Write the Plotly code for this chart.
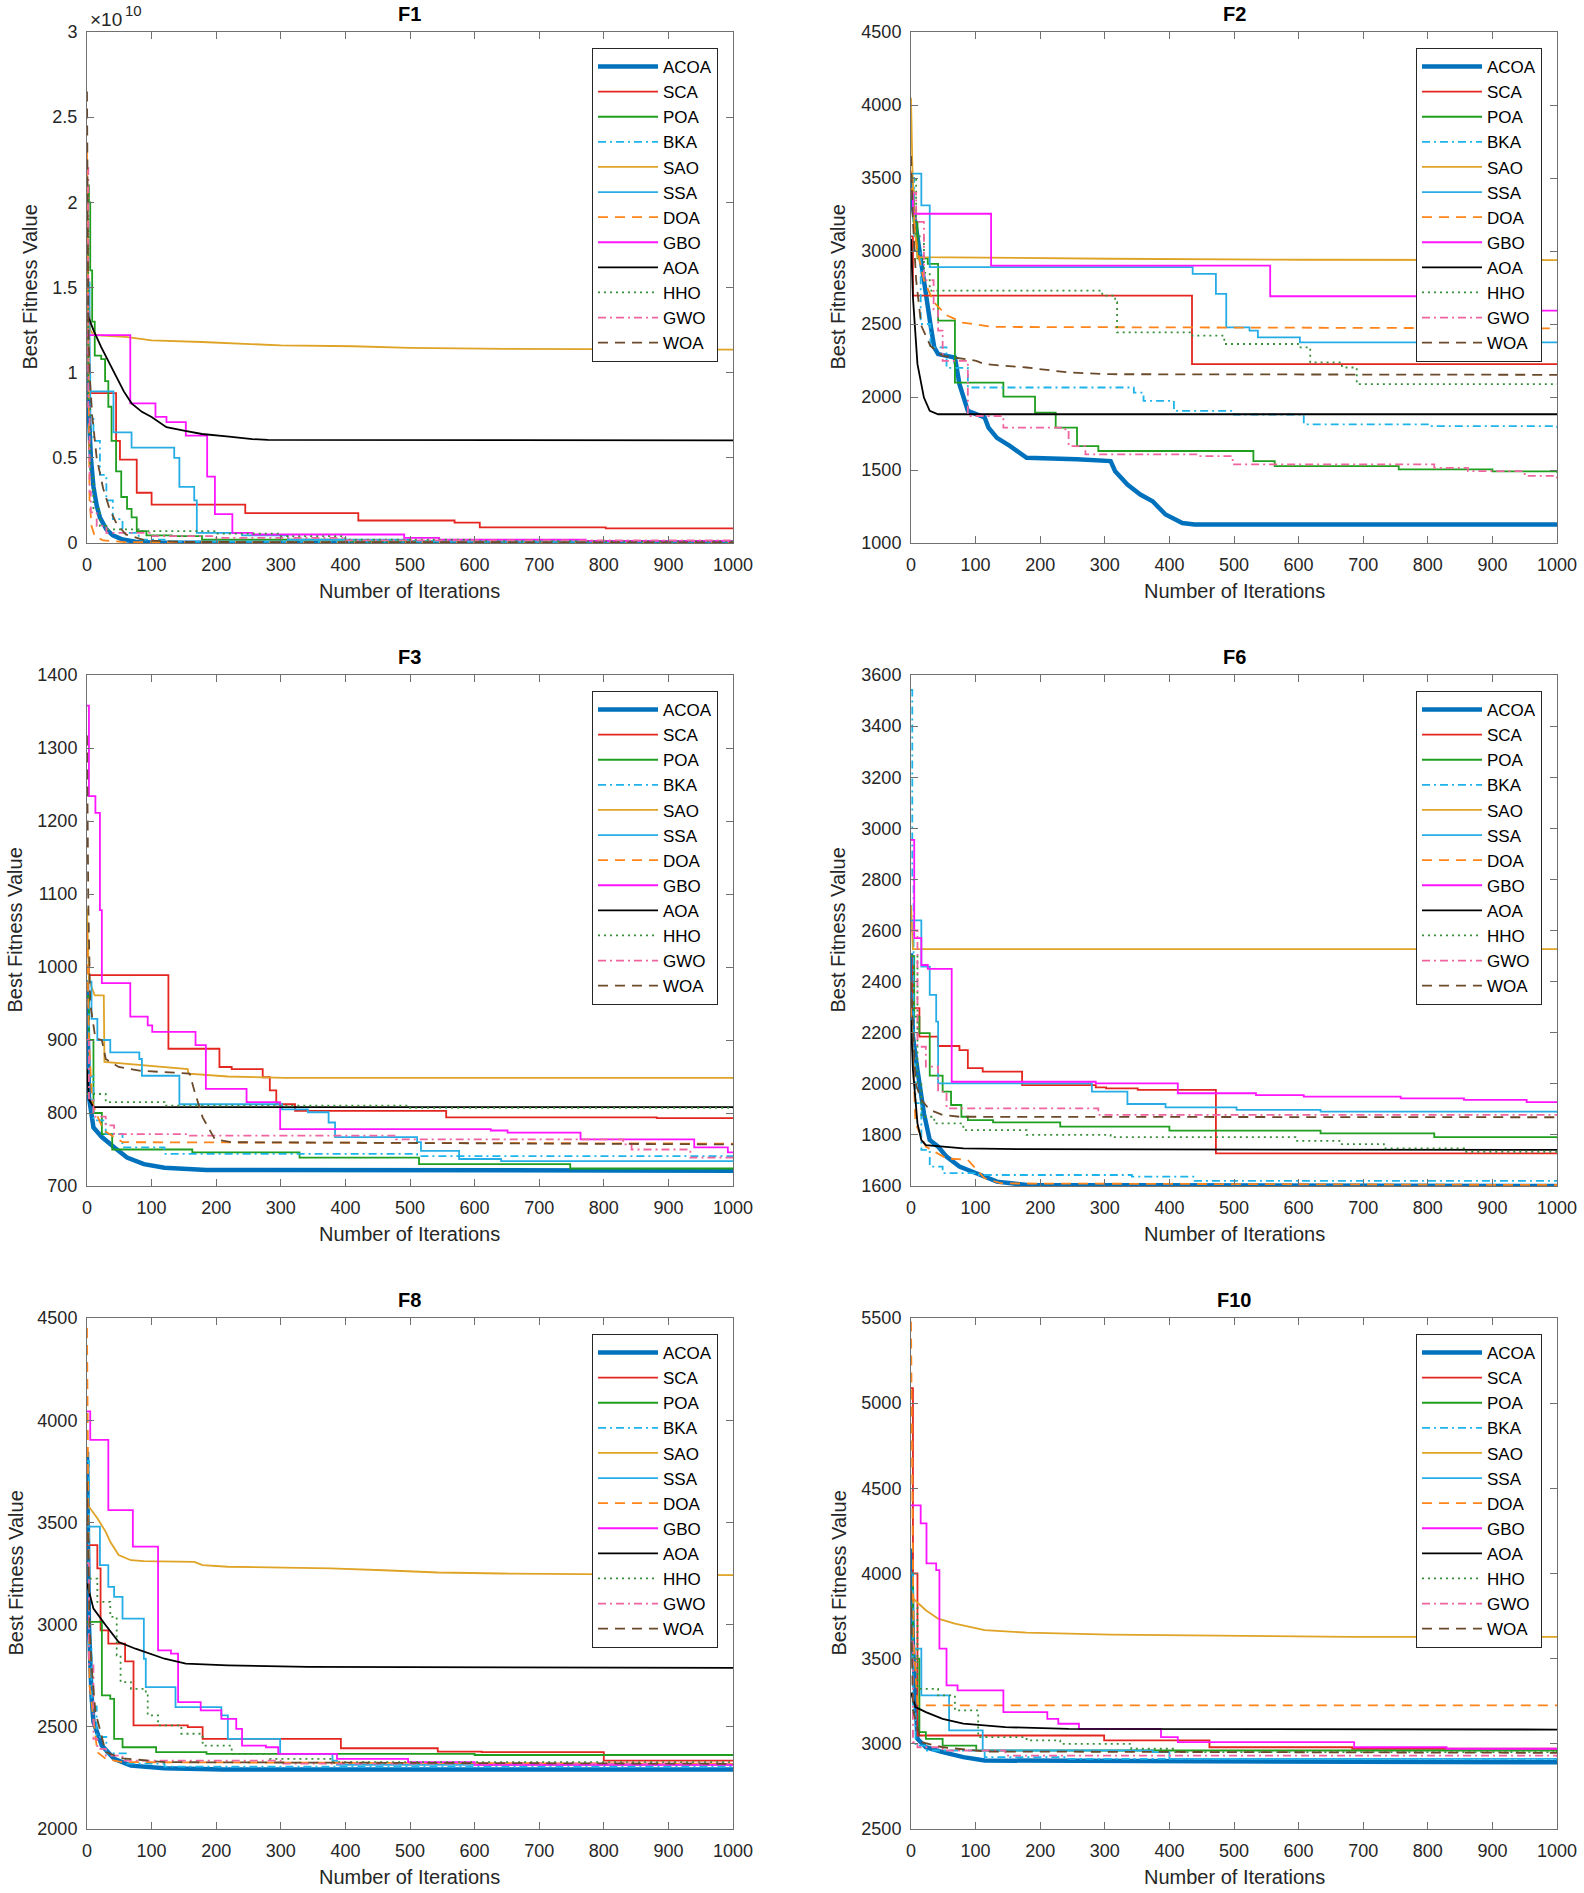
import plotly.graph_objects as go

# convergence curves, as (iteration, best fitness) breakpoints
ALGOS = ["ACOA", "SCA", "POA", "BKA", "SAO", "SSA", "DOA", "GBO", "AOA", "HHO", "GWO", "WOA"]

COLORS = {
    "ACOA": "#0072BD", "SCA": "#E3261F", "POA": "#1F9E1F", "BKA": "#1CB4EA",
    "SAO": "#DFA326", "SSA": "#27ADE6", "DOA": "#FF8419", "GBO": "#FF14FF",
    "AOA": "#000000", "HHO": "#3A8F3A", "GWO": "#F0649F", "WOA": "#6B4A2B",
}
DASHES = {
    "ACOA": "solid", "SCA": "solid", "POA": "solid", "BKA": "8px,4px,2px,4px",
    "SAO": "solid", "SSA": "solid", "DOA": "10px,7px", "GBO": "solid",
    "AOA": "solid", "HHO": "2px,4px", "GWO": "8px,4px,2px,4px", "WOA": "10px,7px",
}
STEP_ALGOS = {"SCA", "POA", "BKA", "SSA", "GBO", "HHO", "GWO"}

# ---- F1 (values in units of 1e10)
F1_ACOA = [(0, 1.52), (1, 1.1), (3, 0.75), (6, 0.5), (10, 0.33), (15, 0.22), (20, 0.15), (30, 0.08),
           (40, 0.045), (55, 0.02), (75, 0.008), (100, 0.003), (200, 0.001), (1000, 0.0)]
F1_SCA = [(0, 1.55), (2, 1.0), (4, 0.88), (45, 0.6), (51, 0.49), (77, 0.295), (100, 0.225), (245, 0.175),
          (420, 0.132), (569, 0.12), (608, 0.092), (803, 0.086), (1000, 0.086)]
F1_POA = [(0, 2.1), (3, 2.0), (5, 1.6), (8, 1.3), (12, 1.1), (22, 1.08), (28, 0.95), (33, 0.8), (38, 0.6),
          (45, 0.42), (53, 0.27), (62, 0.2), (69, 0.15), (77, 0.07), (92, 0.045), (131, 0.04), (178, 0.02),
          (400, 0.01), (1000, 0.005)]
F1_BKA = [(0, 1.4), (2, 1.0), (5, 0.75), (10, 0.6), (20, 0.4), (30, 0.25), (40, 0.14), (55, 0.06),
          (80, 0.02), (120, 0.008), (1000, 0.002)]
F1_SAO = [(0, 2.0), (2, 1.5), (5, 1.25), (10, 1.22), (60, 1.21), (100, 1.19), (178, 1.18), (300, 1.16),
          (412, 1.155), (500, 1.145), (647, 1.14), (1000, 1.135)]
F1_SSA = [(0, 1.53), (4, 0.89), (41, 0.65), (69, 0.56), (135, 0.5), (143, 0.33), (166, 0.25), (170, 0.06),
          (240, 0.045), (311, 0.02), (500, 0.01), (1000, 0.006)]
F1_DOA = [(0, 2.3), (2, 0.9), (4, 0.25), (7, 0.1), (12, 0.04), (25, 0.015), (60, 0.005), (1000, 0.001)]
F1_GBO = [(0, 1.22), (67, 0.82), (106, 0.74), (123, 0.71), (153, 0.63), (186, 0.39), (198, 0.17),
          (225, 0.06), (256, 0.05), (491, 0.03), (545, 0.02), (772, 0.012), (1000, 0.01)]
F1_AOA = [(0, 1.35), (10, 1.25), (22, 1.15), (35, 1.05), (45, 0.98), (57, 0.89), (69, 0.82), (85, 0.77),
          (100, 0.74), (123, 0.68), (150, 0.66), (178, 0.64), (220, 0.625), (256, 0.61), (280, 0.605),
          (1000, 0.602)]
F1_HHO = [(0, 1.9), (2, 0.8), (5, 0.4), (10, 0.2), (20, 0.1), (30, 0.08), (80, 0.07), (200, 0.055),
          (300, 0.04), (400, 0.02), (600, 0.01), (1000, 0.006)]
F1_GWO = [(0, 2.2), (2, 0.8), (4, 0.3), (6, 0.18), (15, 0.1), (30, 0.06), (100, 0.04), (200, 0.03),
          (400, 0.015), (1000, 0.01)]
F1_WOA = [(0, 2.65), (2, 1.3), (4, 1.0), (8, 0.75), (15, 0.5), (25, 0.32), (35, 0.2), (45, 0.12),
          (60, 0.05), (90, 0.015), (150, 0.006), (1000, 0.003)]

# ---- F2
F2_ACOA = [(0, 3490), (3, 3300), (10, 3095), (16, 2900), (23, 2683), (30, 2500), (36, 2340), (42, 2294),
           (68, 2270), (75, 2088), (88, 1905), (114, 1860), (120, 1790), (133, 1720), (153, 1665),
           (179, 1584), (257, 1573), (309, 1561), (316, 1492), (335, 1400), (355, 1332), (374, 1286),
           (394, 1195), (420, 1137), (439, 1126), (1000, 1126)]
F2_SCA = [(0, 3100), (3, 2695), (435, 2225), (1000, 2225)]
F2_POA = [(0, 3420), (4, 3200), (10, 2950), (26, 2912), (42, 2523), (68, 2099), (143, 2003), (192, 1893),
          (224, 1790), (257, 1664), (290, 1630), (530, 1561), (563, 1527), (755, 1504), (900, 1490),
          (1000, 1481)]
F2_BKA = [(0, 3500), (5, 3000), (15, 2500), (30, 2340), (55, 2200), (88, 2065), (345, 2030), (360, 1973),
          (407, 1905), (500, 1880), (608, 1813), (800, 1800), (1000, 1790)]
F2_SAO = [(0, 4050), (2, 3600), (5, 3200), (10, 2958), (309, 2947), (609, 2940), (1000, 2938)]
F2_SSA = [(0, 3530), (16, 3313), (29, 2889), (436, 2843), (472, 2706), (488, 2477), (524, 2454),
          (537, 2408), (602, 2374), (1000, 2370)]
F2_DOA = [(0, 3550), (5, 3200), (10, 3000), (20, 2800), (35, 2650), (55, 2560), (80, 2510), (127, 2480),
          (1000, 2470)]
F2_GBO = [(0, 3400), (3, 3255), (124, 2900), (556, 2690), (850, 2592), (1000, 2592)]
F2_AOA = [(0, 3084), (3, 2683), (10, 2225), (20, 1996), (29, 1905), (42, 1882), (1000, 1882)]
F2_HHO = [(0, 3500), (8, 3100), (20, 2850), (29, 2729), (296, 2695), (316, 2649), (319, 2443), (433, 2420),
          (485, 2363), (599, 2340), (618, 2237), (667, 2202), (690, 2088), (1000, 2088)]
F2_GWO = [(0, 3400), (8, 3200), (20, 2800), (35, 2600), (42, 2454), (49, 2248), (88, 1870), (143, 1790),
          (237, 1779), (244, 1664), (270, 1607), (446, 1595), (498, 1538), (810, 1515), (862, 1492),
          (950, 1460), (1000, 1435)]
F2_WOA = [(0, 3650), (3, 3200), (8, 2800), (16, 2488), (30, 2350), (49, 2282), (101, 2248), (114, 2225),
          (179, 2202), (244, 2168), (309, 2156), (1000, 2152)]

# ---- F3
F3_ACOA = [(0, 982), (3, 822), (10, 780), (23, 767), (42, 753), (62, 739), (88, 730), (120, 725),
           (185, 722), (1000, 721)]
F3_SCA = [(0, 1000), (3, 989), (126, 888), (205, 863), (224, 860), (272, 849), (283, 831), (293, 812),
          (322, 803), (556, 794), (882, 793), (1000, 793)]
F3_POA = [(0, 960), (3, 900), (10, 800), (23, 771), (39, 750), (163, 746), (329, 739), (514, 730),
          (748, 724), (1000, 724)]
F3_BKA = [(0, 950), (3, 850), (10, 790), (29, 771), (55, 753), (120, 744), (511, 741), (1000, 740)]
F3_SAO = [(0, 1080), (3, 982), (12, 961), (26, 961), (27, 870), (156, 860), (157, 854), (218, 850),
          (306, 848), (1000, 848)]
F3_SSA = [(0, 980), (7, 929), (16, 900), (36, 883), (81, 874), (85, 851), (130, 851), (143, 812),
          (302, 805), (342, 801), (374, 787), (384, 767), (511, 760), (517, 748), (576, 737), (641, 734),
          (1000, 733)]
F3_DOA = [(0, 1050), (3, 900), (8, 815), (16, 796), (26, 776), (55, 760), (1000, 758)]
F3_GBO = [(0, 1358), (3, 1234), (13, 1211), (20, 1078), (23, 978), (67, 932), (94, 920), (101, 911),
          (168, 893), (184, 833), (247, 815), (299, 778), (625, 776), (651, 773), (764, 764), (940, 753),
          (992, 746), (1000, 746)]
F3_AOA = [(0, 860), (3, 819), (10, 808), (1000, 808)]
F3_HHO = [(0, 826), (29, 815), (120, 810), (500, 807), (1000, 806)]
F3_GWO = [(0, 900), (3, 820), (10, 795), (29, 783), (42, 771), (159, 769), (478, 764), (830, 757),
          (843, 750), (934, 739), (1000, 738)]
F3_WOA = [(0, 1317), (2, 1088), (5, 950), (13, 902), (23, 900), (29, 874), (49, 863), (81, 858),
          (159, 854), (166, 831), (179, 794), (198, 764), (224, 760), (1000, 757)]

# ---- F6
F6_ACOA = [(0, 2511), (3, 2185), (10, 2054), (20, 1884), (29, 1780), (42, 1754), (55, 1715), (75, 1676),
           (101, 1650), (133, 1617), (179, 1604), (1000, 1600)]
F6_SCA = [(0, 2500), (3, 2296), (13, 2185), (42, 2148), (75, 2132), (88, 2061), (111, 2048), (172, 1995),
          (286, 1986), (302, 1982), (351, 1976), (472, 1728), (1000, 1725)]
F6_POA = [(0, 2500), (5, 2263), (13, 2198), (29, 2032), (49, 1969), (62, 1917), (78, 1871), (88, 1858),
          (127, 1849), (231, 1832), (400, 1817), (634, 1806), (810, 1791), (1000, 1787)]
F6_BKA = [(0, 3542), (2, 2800), (4, 2100), (7, 1924), (16, 1741), (29, 1676), (49, 1650), (101, 1643),
          (342, 1637), (439, 1620), (1000, 1617)]
F6_SAO = [(0, 2700), (3, 2527), (1000, 2527)]
F6_SSA = [(0, 2640), (16, 2459), (29, 2348), (39, 2243), (42, 2002), (280, 1969), (335, 1921), (394, 1908),
          (504, 1898), (634, 1891), (1000, 1887)]
F6_DOA = [(0, 2300), (7, 1845), (23, 1754), (55, 1708), (88, 1702), (114, 1630), (140, 1610), (1000, 1604)]
F6_GBO = [(0, 2955), (5, 2570), (16, 2465), (26, 2450), (63, 2008), (286, 2002), (413, 1963), (534, 1956),
          (608, 1950), (758, 1943), (856, 1937), (953, 1928), (1000, 1928)]
F6_AOA = [(0, 2250), (3, 2054), (10, 1845), (16, 1780), (23, 1760), (81, 1747), (179, 1744), (1000, 1741)]
F6_HHO = [(0, 2500), (10, 2000), (16, 1871), (36, 1845), (81, 1819), (179, 1800), (309, 1791), (595, 1777),
          (667, 1764), (732, 1747), (856, 1734), (1000, 1732)]
F6_GWO = [(0, 2600), (10, 2145), (23, 2067), (42, 1969), (55, 1904), (290, 1878), (1000, 1878)]
F6_WOA = [(0, 2400), (7, 2002), (16, 1937), (29, 1898), (49, 1878), (75, 1871), (1000, 1869)]

# ---- F8
F8_ACOA = [(0, 3846), (3, 3000), (7, 2654), (10, 2523), (23, 2408), (42, 2343), (68, 2310), (120, 2297),
           (211, 2291), (1000, 2291)]
F8_SCA = [(0, 3389), (16, 3275), (21, 2972), (33, 2907), (59, 2820), (72, 2507), (156, 2498), (179, 2441),
          (393, 2395), (543, 2379), (611, 2376), (800, 2335), (1000, 2335)]
F8_POA = [(0, 3013), (23, 2654), (36, 2637), (42, 2441), (55, 2400), (107, 2376), (185, 2368), (600, 2362),
          (1000, 2359)]
F8_BKA = [(0, 3800), (3, 2900), (7, 2600), (15, 2450), (30, 2370), (60, 2320), (120, 2305), (1000, 2300)]
F8_SAO = [(0, 3600), (3, 3577), (16, 3520), (29, 3454), (36, 3405), (49, 3340), (68, 3315), (88, 3311),
          (166, 3307), (179, 3291), (218, 3283), (377, 3275), (459, 3266), (543, 3255), (641, 3250),
          (1000, 3242)]
F8_SSA = [(0, 3479), (20, 3291), (33, 3185), (42, 3136), (55, 3029), (88, 2833), (91, 2694), (137, 2596),
          (208, 2556), (218, 2441), (299, 2368), (380, 2335), (387, 2314), (1000, 2307)]
F8_DOA = [(0, 4451), (2, 3500), (4, 2700), (16, 2376), (29, 2343), (55, 2327), (1000, 2319)]
F8_GBO = [(0, 4043), (5, 3904), (33, 3560), (71, 3381), (110, 2874), (130, 2858), (141, 2621), (176, 2580),
          (208, 2539), (231, 2490), (240, 2408), (277, 2400), (296, 2368), (387, 2343), (497, 2327),
          (600, 2314), (1000, 2310)]
F8_AOA = [(0, 3201), (10, 3078), (29, 2997), (49, 2915), (75, 2882), (120, 2833), (153, 2809), (218, 2801),
          (342, 2793), (1000, 2788)]
F8_HHO = [(0, 3300), (3, 3225), (16, 3111), (36, 3038), (46, 2850), (52, 2719), (68, 2686), (91, 2654),
          (94, 2556), (110, 2507), (146, 2466), (179, 2408), (224, 2368), (283, 2343), (380, 2327),
          (1000, 2314)]
F8_GWO = [(0, 3300), (3, 2800), (10, 2441), (16, 2392), (29, 2359), (55, 2335), (300, 2320), (1000, 2314)]
F8_WOA = [(0, 3700), (4, 3000), (7, 2800), (13, 2572), (29, 2376), (55, 2346), (120, 2327), (1000, 2319)]

# ---- F10
F10_ACOA = [(0, 4147), (3, 3579), (10, 3029), (23, 2980), (49, 2951), (81, 2922), (114, 2902), (1000, 2892)]
F10_SCA = [(0, 5088), (3, 4000), (10, 3049), (299, 3020), (462, 2980), (683, 2971), (1000, 2971)]
F10_POA = [(0, 4000), (3, 3500), (13, 3069), (23, 3029), (49, 2990), (101, 2961), (1000, 2947)]
F10_BKA = [(0, 4000), (3, 3200), (7, 2990), (23, 2961), (114, 2922), (244, 2912), (1000, 2902)]
F10_SAO = [(0, 3900), (3, 3853), (23, 3784), (42, 3735), (68, 3706), (114, 3667), (179, 3653), (309, 3641),
           (680, 3628), (1000, 3628)]
F10_SSA = [(0, 3600), (3, 3559), (16, 3284), (59, 3079), (111, 2961), (374, 2951), (400, 2912), (1000, 2902)]
F10_DOA = [(0, 5480), (2, 4500), (4, 3600), (10, 3235), (23, 3226), (1000, 3226)]
F10_GBO = [(0, 4400), (15, 4294), (24, 4059), (39, 4020), (44, 3559), (55, 3343), (72, 3314), (143, 3186),
           (211, 3147), (228, 3118), (260, 3088), (387, 3039), (413, 3010), (686, 2980), (829, 2971),
           (1000, 2967)]
F10_AOA = [(0, 3300), (7, 3216), (23, 3186), (49, 3147), (81, 3118), (146, 3098), (244, 3088), (1000, 3084)]
F10_HHO = [(0, 3800), (10, 3323), (42, 3284), (68, 3196), (104, 3039), (179, 3020), (231, 3000), (341, 2971),
           (407, 2951), (1000, 2947)]
F10_GWO = [(0, 3600), (3, 3010), (10, 2980), (49, 2961), (146, 2931), (1000, 2922)]
F10_WOA = [(0, 3900), (3, 3200), (16, 3010), (49, 2980), (114, 2955), (1000, 2947)]

PANEL_NAMES = ["F1", "F2", "F3", "F6", "F8", "F10"]
Y_RANGES = {"F1": (0, 3, 0.5), "F2": (1000, 4500, 500), "F3": (700, 1400, 100),
            "F6": (1600, 3600, 200), "F8": (2000, 4500, 500), "F10": (2500, 5500, 500)}
X_LABEL = "Number of Iterations"
Y_LABEL = "Best Fitness Value"

g = globals()
panels = {p: {a: g[f"{p}_{a}"] for a in ALGOS} for p in PANEL_NAMES}

W, H = 1584, 1893
X_DOMAINS = [(87, 733), (911, 1557)]                # pixel columns of the plot boxes
Y_DOMAINS = [(32, 543), (675, 1186), (1318, 1829)]  # pixel rows (top, bottom)
YTITLE_X = {"F1": 30, "F2": 838, "F3": 15, "F6": 838, "F8": 15, "F10": 838}

FONT = "Liberation Sans, Arial, sans-serif"
TXT = "#262626"
AX = "#707070"

fig = go.Figure()
annotations = []
layout = dict(width=W, height=H, margin=dict(l=0, r=0, t=0, b=0),
              plot_bgcolor="white", paper_bgcolor="white",
              font=dict(family=FONT, color=TXT, size=18))

for i, pname in enumerate(PANEL_NAMES):
    row, col = divmod(i, 2)
    suffix = "" if i == 0 else str(i + 1)
    leg = "legend" if i == 0 else f"legend{i + 1}"
    x0, x1 = X_DOMAINS[col]
    top, bot = Y_DOMAINS[row]
    xd = [x0 / W, x1 / W]
    yd = [1 - bot / H, 1 - top / H]

    for algo in ALGOS:
        pts = panels[pname][algo]
        fig.add_trace(go.Scatter(
            x=[p[0] for p in pts], y=[p[1] for p in pts],
            mode="lines", name=algo,
            line=dict(color=COLORS[algo], width=4.5 if algo == "ACOA" else 1.8,
                      dash=DASHES[algo], shape="hv" if algo in STEP_ALGOS else "linear"),
            xaxis="x" + suffix, yaxis="y" + suffix, legend=leg,
        ))

    ymin, ymax, ystep = Y_RANGES[pname]
    common = dict(showline=True, linecolor=AX, linewidth=1, mirror="ticks", ticks="inside",
                  ticklen=7, tickcolor=AX, showgrid=False, zeroline=False, automargin=False,
                  ticklabelstandoff=5, tickfont=dict(size=18, color=TXT))
    layout["xaxis" + suffix] = dict(common, domain=xd, anchor="y" + suffix, range=[0, 1000], dtick=100)
    layout["yaxis" + suffix] = dict(common, domain=yd, anchor="x" + suffix, range=[ymin, ymax], dtick=ystep)
    layout[leg] = dict(x=(x1 - 15) / W, y=1 - (top + 16) / H, xanchor="right", yanchor="top",
                       bgcolor="white", bordercolor=TXT, borderwidth=1,
                       font=dict(size=17, color="#000000"), tracegroupgap=0, itemwidth=60)

    # panel title and axis labels
    annotations.append(dict(text=f"<b>{pname}</b>", x=(x0 + x1) / 2 / W, y=1 - top / H,
                            xref="paper", yref="paper", xanchor="center", yanchor="bottom",
                            yshift=5, showarrow=False, font=dict(size=20, color="#000000")))
    annotations.append(dict(text=X_LABEL, x=(x0 + x1) / 2 / W, y=1 - (bot + 48) / H,
                            xref="paper", yref="paper", xanchor="center", yanchor="middle",
                            showarrow=False, font=dict(size=20, color=TXT)))
    annotations.append(dict(text=Y_LABEL, x=YTITLE_X[pname] / W, y=1 - (top + bot) / 2 / H,
                            xref="paper", yref="paper", xanchor="center", yanchor="middle",
                            textangle=-90, showarrow=False, font=dict(size=20, color=TXT)))

# axis exponent of F1, drawn as in MATLAB: "x10" with a raised "10"
annotations.append(dict(text="×10", x=88 / W, y=1 - 32 / H, xref="paper", yref="paper",
                        xanchor="left", yanchor="bottom", showarrow=False,
                        font=dict(size=19, color=TXT)))
annotations.append(dict(text="10", x=123 / W, y=1 - 21 / H, xref="paper", yref="paper",
                        xanchor="left", yanchor="bottom", showarrow=False,
                        font=dict(size=15, color=TXT)))
layout["annotations"] = annotations
fig.update_layout(**layout)

fig.write_html("out.html", config={"displayModeBar": False},
               post_script="document.body.style.margin='0px';document.body.style.overflow='hidden';")
